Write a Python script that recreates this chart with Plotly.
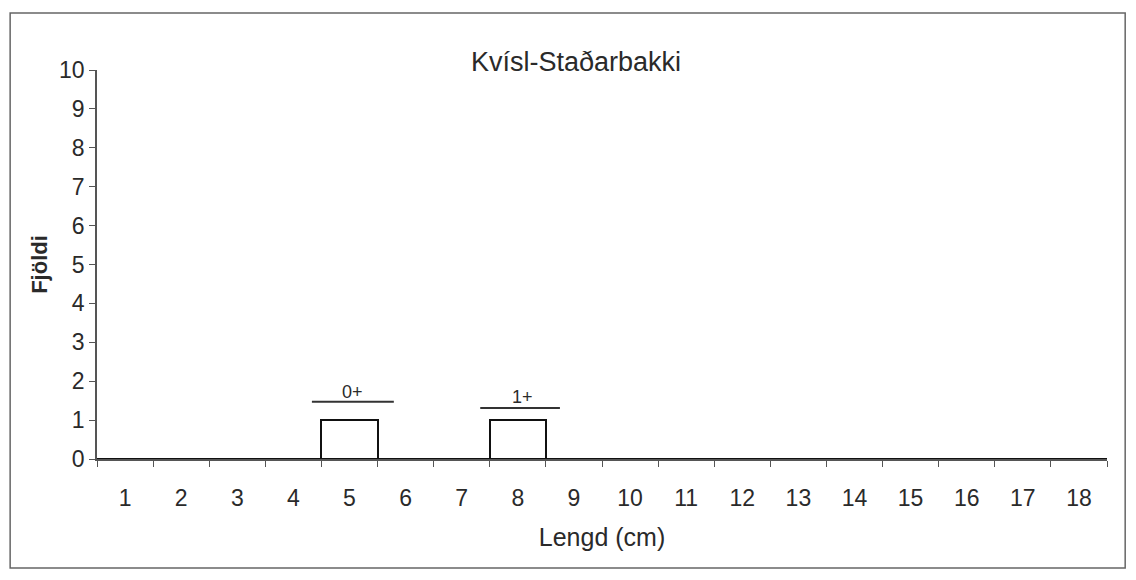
import plotly.graph_objects as go

# length classes (cm) and number of fish
lengths = list(range(1, 19))
counts = [0, 0, 0, 0, 1, 0, 0, 1, 0, 0, 0, 0, 0, 0, 0, 0, 0, 0]

# age groups marked above the bars
age_labels = ['0+', '1+']
age_x0 = [4.33, 7.33]
age_x1 = [5.79, 8.75]
age_xt = [5.06, 8.09]
age_line_y = [1.47, 1.31]
age_text_y = [1.72, 1.59]

fontname = 'Liberation Sans, Arial, sans-serif'
txtcol = '#2a2a2a'
axcol = '#555555'

fig = go.Figure()

fig.add_trace(go.Bar(
    x=lengths,
    y=counts,
    width=1,
    marker=dict(color='#ffffff', line=dict(color='#111111', width=2)),
    showlegend=False
))

for i in range(len(age_labels)):
    fig.add_shape(type='line', xref='x', yref='y',
                  x0=age_x0[i], x1=age_x1[i], y0=age_line_y[i], y1=age_line_y[i],
                  line=dict(color='#333333', width=2))
    fig.add_annotation(x=age_xt[i], y=age_text_y[i], yanchor='middle', text=age_labels[i],
                       showarrow=False, font=dict(size=18, color=txtcol, family=fontname))

# border round the whole chart
fig.add_shape(type='rect', xref='paper', yref='paper',
              x0=-0.086, x1=1.018, y0=-0.280, y1=1.1465,
              line=dict(color='#666666', width=1.5))

fig.update_layout(
    width=1136,
    height=580,
    margin=dict(l=89, r=37, t=62, b=129),
    paper_bgcolor='#ffffff',
    plot_bgcolor='#ffffff',
    title=dict(text='Kvísl-Staðarbakki', x=0.5, xanchor='center', y=0.907, yanchor='middle',
               font=dict(size=27, color=txtcol, family=fontname)),
    font=dict(family=fontname, color=txtcol),
    bargap=0,
    xaxis=dict(
        range=[0.5, 18.5],
        tickmode='array',
        tickvals=lengths,
        ticktext=[str(v) for v in lengths],
        ticks='',
        ticklabelstandoff=18,
        showgrid=False,
        zeroline=False,
        showline=True,
        linecolor=axcol,
        linewidth=1.5,
        tickfont=dict(size=23, color=txtcol),
        minor=dict(tickmode='linear', tick0=0.5, dtick=1, ticks='outside', ticklen=6,
                   tickcolor=axcol, showgrid=False),
        title=dict(text='Lengd (cm)', font=dict(size=25, color=txtcol), standoff=18)
    ),
    yaxis=dict(
        range=[0, 10],
        tickmode='linear',
        tick0=0,
        dtick=1,
        ticks='outside',
        ticklen=6,
        tickcolor=axcol,
        showgrid=False,
        zeroline=False,
        showline=True,
        linecolor=axcol,
        linewidth=1.5,
        tickfont=dict(size=23, color=txtcol),
        title=dict(text='<b>Fjöldi</b>', font=dict(size=22, color=txtcol), standoff=5)
    )
)

fig.write_html("out.html")
